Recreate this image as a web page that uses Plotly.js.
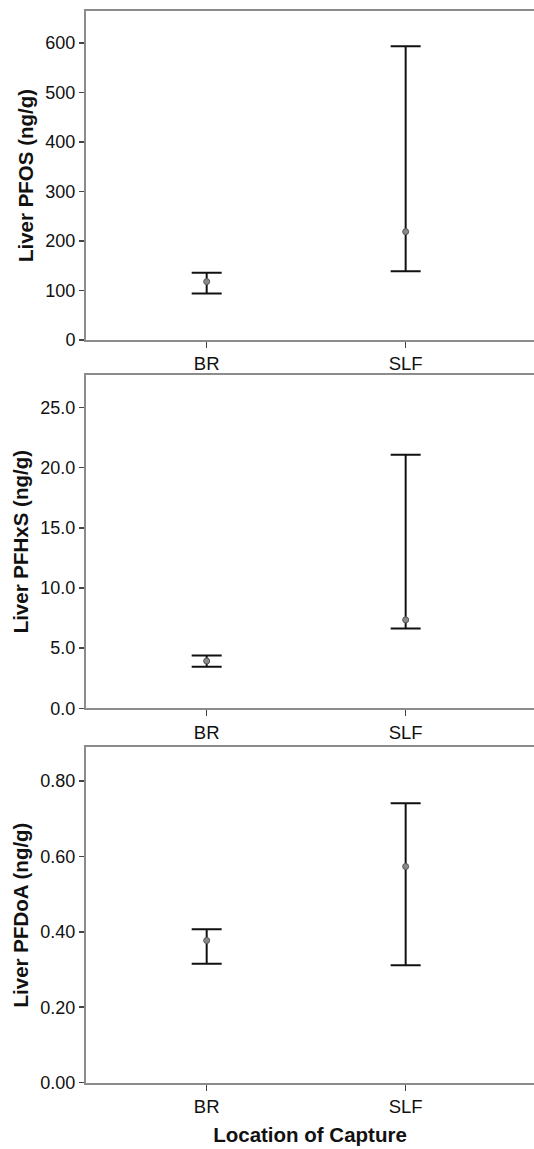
<!DOCTYPE html>
<html>
<head>
<meta charset="utf-8">
<script src="https://cdn.plot.ly/plotly-3.0.1.min.js"></script>
<style>
  html, body { margin: 0; padding: 0; background: #fff; }
  #chart { width: 534px; height: 1149px; }
</style>
</head>
<body>
<div id="chart"></div>
<script>
// Categories (location of capture)
const categories = ["BR", "SLF"];

// Liver PFOS (ng/g): mean, upper and lower limits of error bar
const pfosMean  = [118, 219];
const pfosUpper = [136, 594];
const pfosLower = [94, 139];

// Liver PFHxS (ng/g)
const pfhxsMean  = [3.93, 7.35];
const pfhxsUpper = [4.38, 21.07];
const pfhxsLower = [3.46, 6.63];

// Liver PFDoA (ng/g)
const pfdoaMean  = [0.377, 0.573];
const pfdoaUpper = [0.407, 0.741];
const pfdoaLower = [0.315, 0.311];

// Axis titles and tick labels
const yTitles = ["Liver PFOS (ng/g)", "Liver PFHxS (ng/g)", "Liver PFDoA (ng/g)"];
const xTitle = "Location of Capture";
const yTickVals = [
  [0, 100, 200, 300, 400, 500, 600],
  [0, 5, 10, 15, 20, 25],
  [0, 0.2, 0.4, 0.6, 0.8]
];
const yTickText = [
  ["0", "100", "200", "300", "400", "500", "600"],
  ["0.0", "5.0", "10.0", "15.0", "20.0", "25.0"],
  ["0.00", "0.20", "0.40", "0.60", "0.80"]
];
const yMax = [665, 27.7, 0.889];

const series = [
  [pfosMean, pfosUpper, pfosLower],
  [pfhxsMean, pfhxsUpper, pfhxsLower],
  [pfdoaMean, pfdoaUpper, pfdoaLower]
];

const H = 1149, W = 534;
const panelPx = [[11, 340], [375, 708.3], [747.3, 1082.7]];
const FONT = "Liberation Sans, Arial, sans-serif";

const traces = series.map((s, i) => {
  const [mean, up, lo] = s;
  return {
    type: "scatter",
    mode: "markers",
    x: categories,
    y: mean,
    xaxis: i === 0 ? "x" : "x" + (i + 1),
    yaxis: i === 0 ? "y" : "y" + (i + 1),
    marker: { size: 6, color: "#8a8a8a", line: { color: "#555", width: 1 } },
    error_y: {
      type: "data",
      symmetric: false,
      array: up.map((u, k) => u - mean[k]),
      arrayminus: lo.map((l, k) => mean[k] - l),
      color: "#111",
      thickness: 2,
      width: 15
    },
    showlegend: false,
    hoverinfo: "x+y"
  };
});

const layout = {
  width: W, height: H,
  margin: { l: 0, r: 0, t: 0, b: 0 },
  paper_bgcolor: "#fff",
  plot_bgcolor: "#fff",
  font: { family: FONT, size: 18, color: "#111" },
  showlegend: false
};

panelPx.forEach((p, i) => {
  const sx = i === 0 ? "" : String(i + 1);
  layout["xaxis" + sx] = {
    type: "category",
    domain: [86 / W, 1],
    range: [-0.6065, 1.645],
    anchor: "y" + sx,
    showline: true, mirror: true, linecolor: "#8c8c8c", linewidth: 2,
    showgrid: false, zeroline: false,
    ticks: "outside", ticklen: 6, tickwidth: 1.5, tickcolor: "#444",
    tickfont: { family: FONT, size: 18.5, color: "#111" },
    fixedrange: true,
    title: i === 2 ? { text: "<b>" + xTitle + "</b>", font: { family: FONT, size: 20.5, color: "#111" }, standoff: 12 } : { text: "" }
  };
  layout["yaxis" + sx] = {
    domain: [1 - p[1] / H, 1 - p[0] / H],
    range: [0, yMax[i]],
    anchor: "x" + sx,
    showline: true, mirror: true, linecolor: "#8c8c8c", linewidth: 2,
    showgrid: false, zeroline: false,
    tickmode: "array", tickvals: yTickVals[i], ticktext: yTickText[i],
    ticks: "outside", ticklen: 5, tickwidth: 1.5, tickcolor: "#444",
    tickfont: { family: FONT, size: 18, color: "#111" },
    fixedrange: true,
    title: { text: "<b>" + yTitles[i] + "</b>", font: { family: FONT, size: 20.5, color: "#111" }, standoff: 6 }
  };
});

Plotly.newPlot("chart", traces, layout, { displayModeBar: false, staticPlot: true });
</script>
</body>
</html>
